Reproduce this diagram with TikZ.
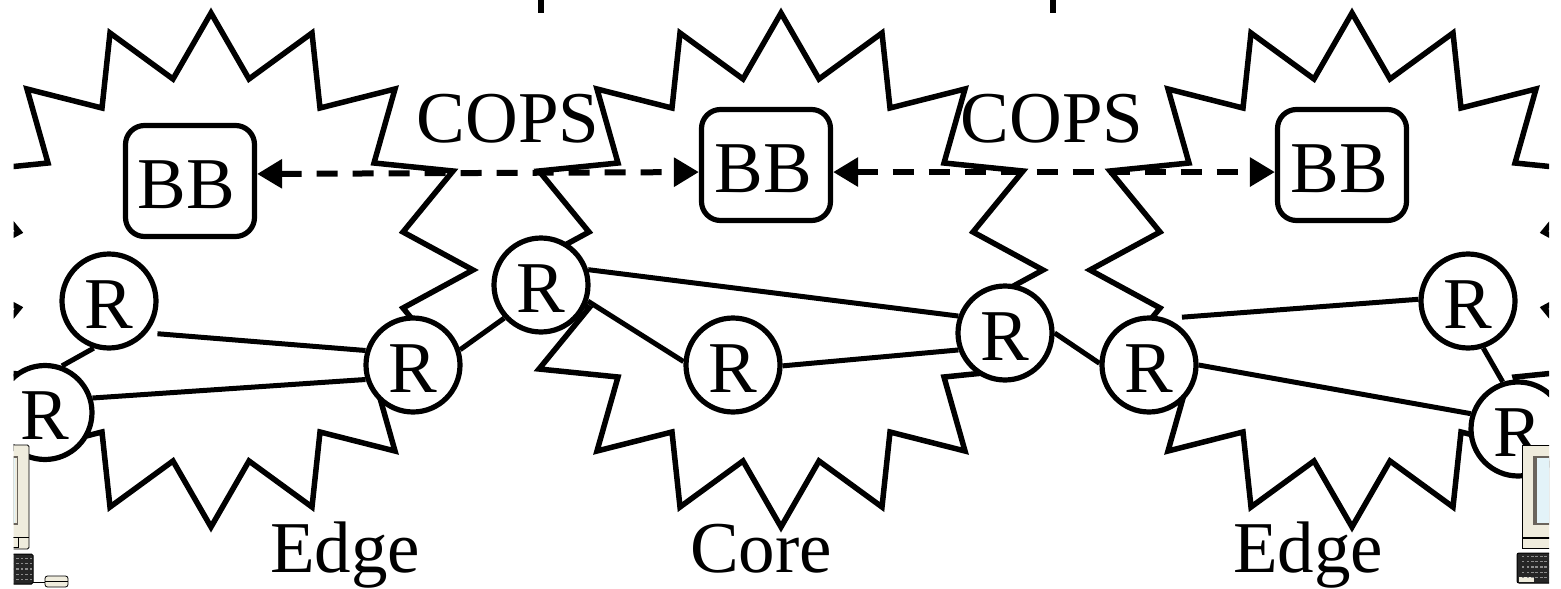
\documentclass[tikz,border=0pt]{standalone}
\usepackage{fontspec}
\setmainfont{Liberation Serif}
\usetikzlibrary{arrows.meta}
\definecolor{cream}{HTML}{EFECDD}
\definecolor{screenblue}{HTML}{E3F3F8}
\definecolor{framegrey}{HTML}{6A645C}
\newcommand{\bigfont}{\fontsize{73}{73}\selectfont}
\newcommand{\cloudat}[1]{%
  \draw[cloudline,shift={(#1,270)}]
    (0,-257)--(38,-191)--(101,-237)--(109,-162)--(184,-181)--(163,-107)--(242,-99)--(192,-38)--(262,0)
    --(192,38)--(242,99)--(163,107)--(184,181)--(109,162)--(101,237)--(38,191)--(0,257)
    --(-38,191)--(-101,237)--(-109,162)--(-184,181)--(-163,107)--(-242,99)--(-192,38)--(-262,0)
    --(-192,-38)--(-242,-99)--(-163,-107)--(-184,-181)--(-109,-162)--(-101,-237)--(-38,-191)--cycle;}
\newcommand{\keygrid}[2]{%
  \foreach \kx in {0,...,5} \foreach \ky in {0,...,4}
    \fill[black!45] ({#1+\kx*4.6},{#2+\ky*5.2}) rectangle ++(2.4,1.1);}
\tikzset{
  x=1pt,y=-1pt,
  cloudline/.style={line width=5.5pt,miter limit=10},
  router/.style={circle,draw,fill=white,line width=5.2pt,minimum size=94pt,inner sep=0pt,
    font=\bigfont,text height=54pt,text depth=0pt},
  broker/.style={rectangle,rounded corners=19pt,draw,fill=white,line width=5.2pt,
    minimum width=129pt,minimum height=111pt,inner sep=0pt,font=\bigfont,
    text height=54pt,text depth=0pt},
  label/.style={font=\bigfont,anchor=base,inner sep=0pt},
  link/.style={line width=5pt},
  signal/.style={line width=6pt,dash pattern=on 21pt off 15pt,
    {Triangle[length=25pt,width=28pt]}-{Triangle[length=25pt,width=28pt]}},
  tick/.style={line width=6pt},
}
\begin{document}
\begin{tikzpicture}
\useasboundingbox (0,0) rectangle (1561,589);
\begin{scope}
\clip (13.5,0) rectangle (1549,589);
% clouds
\cloudat{211}
\cloudat{781}
\cloudat{1352}
% top ticks
\coordinate (t1a) at (541,0); \coordinate (t1b) at (541,13);
\coordinate (t2a) at (1053,0); \coordinate (t2b) at (1053,13);
\draw[tick] (t1a)--(t1b);
\draw[tick] (t2a)--(t2b);
% brokers
\node[broker] (BB1) at (190,181) {BB\kern7pt};
\node[broker] (BB2) at (766,165) {BB\kern6pt};
\node[broker] (BB3) at (1342,165) {BB\kern6pt};
% routers
\node[router] (R1) at (109,301) {R};
\node[router] (R2) at (45,412.5) {R};
\node[router] (R3) at (413,365) {R};
\node[router] (R4) at (541,285) {R};
\node[router] (R5) at (733,365) {R};
\node[router] (R6) at (1005,333) {R};
\node[router] (R7) at (1149,365) {R};
\node[router] (R8) at (1468,301) {R};
\node[router] (R9) at (1518,429) {R};
% links
\draw[link] (R1.-108)--(R2.70);
\draw[link,shorten <=10.5pt] (R1.-40)--(R3.163);
\draw[link] (R2.17)--(R3.197);
\draw[link] (R3.18)--(R4.222);
\draw[link] (R4.18)--(R6.160);
\draw[link] (R4.-19)--(R5.176);
\draw[link] (R5.-1)--(R6.200);
\draw[link] (R6.0)--(R7.178);
\draw[link,shorten <=16pt] (R7.70)--(R8.178);
\draw[link] (R7.0)--(R9.162);
\draw[link] (R8.-72)--(R9.108);
% signalling
\draw[signal] (BB1.6.8)--(BB2.186.8);
\draw[signal] (BB2.-6.8)--(BB3.186.8);
% labels
\node[label] (c1) at (508,142) {COPS};
\node[label] (c2) at (1052,142) {COPS};
\node[label] (e1) at (345,572) {Edge};
\node[label] (k) at (761,572) {Core};
\node[label] (e2) at (1308,572) {Edge};
% left computer
\draw[fill=cream,line width=.8pt,rounded corners=1.5pt] (0,445) rectangle (29,549);
\fill[framegrey] (0,456) rectangle (18,525);
\fill[cream] (0,458) rectangle (17,523);
\fill[screenblue] (0,458) rectangle (15,523);
\draw[line width=.8pt] (0,537)--(29,537);
\draw[line width=.8pt] (0,537) rectangle (18,547);
\draw[line width=1pt,fill=black!85,rounded corners=1.5pt] (0,554) rectangle (33,584);
\keygrid{7}{558}
\draw[line width=.8pt] (33,582)--(45,582);
\draw[fill=cream,line width=.8pt,rounded corners=2.5pt] (45,576) rectangle (68,587);
\draw[line width=.8pt] (45,581)--(68,581);
% right computer
\draw[fill=cream,line width=.8pt] (1522,445) rectangle (1570,548);
\fill[framegrey] (1533,456) rectangle (1570,525);
\fill[screenblue] (1537,458) rectangle (1570,523);
\draw[line width=1.6pt] (1522,538)--(1570,538);
\draw[line width=1pt,fill=black!85,rounded corners=2pt] (1517,553) rectangle (1570,583);
\fill[cream] (1519,577) rectangle (1534,582);
\keygrid{1522}{556}
\keygrid{1535}{556}
\end{scope}
\end{tikzpicture}
\end{document}
